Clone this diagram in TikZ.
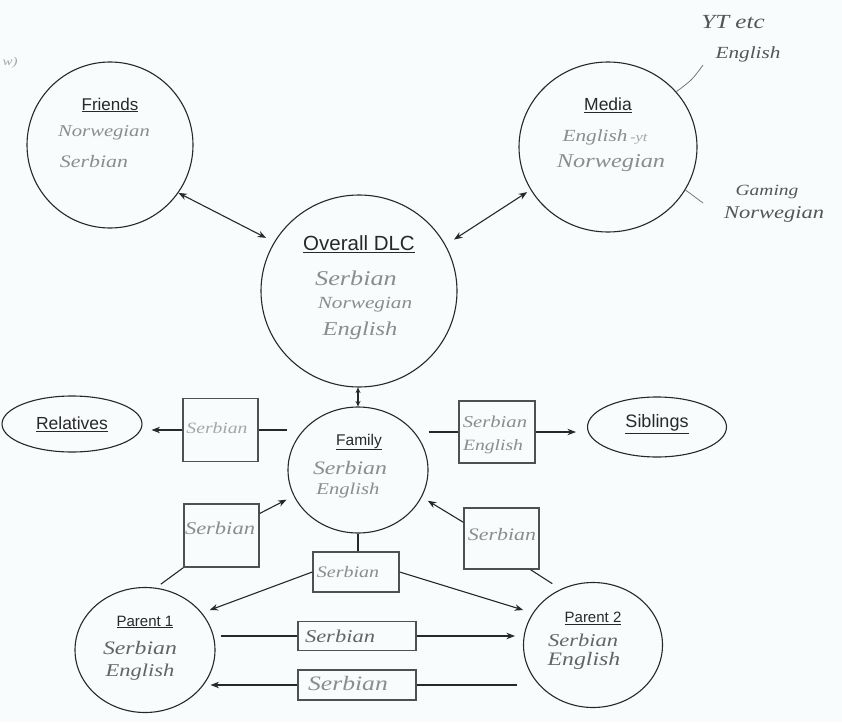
\documentclass[tikz,border=0pt]{standalone}
\usepackage{fontspec}
\setmainfont{Liberation Sans}
\newfontfamily\hand{Liberation Serif}[FakeStretch=1.25]
\usetikzlibrary{shapes.geometric,arrows.meta,calc}
\definecolor{paper}{RGB}{249,252,252}
\definecolor{ink}{RGB}{40,40,40}
\definecolor{boxink}{RGB}{80,80,80}
\definecolor{pencil}{RGB}{140,140,140}
\definecolor{pencilfaint}{RGB}{165,165,165}
\definecolor{pencildark}{RGB}{100,100,100}
\definecolor{pen}{RGB}{85,85,85}
\begin{document}
\begin{tikzpicture}[x=1pt,y=-1pt,
  blob/.style={ellipse, draw=ink, line width=1.1pt, inner sep=0pt},
  tag/.style={rectangle, draw=boxink, line width=1.4pt, inner sep=0pt},
  title/.style={font=\fontsize{#1}{#1}\selectfont, text=ink, inner sep=0pt},
  hw/.style={font=\hand\itshape\fontsize{#1}{#1}\selectfont, text=pencil, inner sep=0pt},
  link/.style={draw=ink, line width=1.1pt},
  arr/.style={link, -{Stealth[length=8.5pt,width=6.5pt]}},
  dbl/.style={link, {Stealth[length=8.5pt,width=6.5pt]}-{Stealth[length=8.5pt,width=6.5pt]}},
  note/.style={draw=pen!80, line width=0.8pt},
]
\fill[paper] (0,0) rectangle (842,722);
\useasboundingbox (0,0) rectangle (842,722);

% circles and ovals
\node[blob, minimum width=166pt, minimum height=166pt] (fr)  at (110,145) {};
\node[blob, minimum width=178pt, minimum height=170pt] (md)  at (608,147) {};
\node[blob, minimum width=196pt, minimum height=192pt] (dlc) at (359,291) {};
\node[blob, minimum width=140pt, minimum height=126pt] (fam) at (358,470) {};
\node[blob, minimum width=140pt, minimum height=56pt]  (rel) at (72,424) {};
\node[blob, minimum width=139pt, minimum height=60pt]  (sib) at (657,427) {};
\node[blob, minimum width=140pt, minimum height=125pt] (pa)  at (145,650) {};
\node[blob, minimum width=139pt, minimum height=125pt] (pb)  at (593,645) {};

% language boxes on the links
\node[tag, minimum width=75pt,  minimum height=63pt] (relbox) at (220.5,430) {};
\node[tag, minimum width=76pt,  minimum height=62pt] (sibbox) at (497,432) {};
\node[tag, minimum width=75pt,  minimum height=63pt] (lbox)   at (221.5,535.5) {};
\node[tag, minimum width=75pt,  minimum height=61pt] (rbox)   at (501.5,538.5) {};
\node[tag, minimum width=86pt,  minimum height=40pt] (mbox)   at (356,572) {};
\node[tag, minimum width=118pt, minimum height=29pt] (ub)     at (357,636) {};
\node[tag, minimum width=118pt, minimum height=30pt] (lb)     at (357,685) {};

% titles
\node[title=17]   (frT)  at (110,105) {\underline{Friends}};
\node[title=17.5] (mdT)  at (608,105) {\underline{Media}};
\node[title=20.5] (dlcT) at (359,244) {\underline{Overall DLC}};
\node[title=15.5] (famT) at (359,442) {\underline{Family}};
\node[title=17.5] (relT) at (72,424)  {\underline{Relatives}};
\node[title=18]   (sibT) at (657,424) {\underline{Siblings}};
\node[title=15]   (paT)  at (145,622) {\underline{Parent 1}};
\node[title=15]   (pbT)  at (593,618) {\underline{Parent 2}};

% handwritten languages
\node[hw=16.5] (frA) at (104,133) {Norwegian};
\node[hw=17.5] (frB) at (94,162) {Serbian};
\node[hw=17] (mdA) at (605,137) {English\,{\color{pencilfaint}\fontsize{13}{13}\selectfont -yt}};
\node[hw=19.5] (mdB) at (611,163) {Norwegian};
\node[hw=21]   (dlcA) at (356,278) {Serbian};
\node[hw=17]   (dlcB) at (365,305) {Norwegian};
\node[hw=19.6] (dlcC) at (360,331) {English};
\node[hw=19]   (famA) at (350,468) {Serbian};
\node[hw=16.5] (famB) at (348,491) {English};
\node[hw=19, text=pencildark] (paA) at (140,648) {Serbian};
\node[hw=18, text=pencildark] (paB) at (140,672) {English};
\node[hw=18, text=pencildark] (pbA) at (583,640) {Serbian};
\node[hw=19, text=pencildark] (pbB) at (584,661) {English};
\node[hw=15.7, text=pencilfaint] (relL) at (217,428) {Serbian};
\node[hw=16.5] (sibA) at (495,422) {Serbian};
\node[hw=15.7] (sibB) at (493,447) {English};
\node[hw=18]   (lboxL) at (220,528) {Serbian};
\node[hw=17.5] (rboxL) at (502,535) {Serbian};
\node[hw=16]   (mboxL) at (348,572) {Serbian};
\node[hw=18, text=pencildark] (ubL) at (340,636) {Serbian};
\node[hw=20.5] (lbL) at (348,683) {Serbian};

% side notes on the media circle
\node[hw=20, text=pen] (ytA) at (733,22) {YT etc};
\node[hw=17, text=pen] (ytB) at (748,54) {English};
\node[hw=15.6, text=pen] (gmA) at (767,192) {Gaming};
\node[hw=18, text=pen] (gmB) at (774,214) {Norwegian};
\node[hw=12, text=pencilfaint] (edge) at (10,63) {w)};

\coordinate (ytend) at (703,65);
\coordinate (gmend) at (703,203);
\draw[note] (md.39) .. controls (692,80) .. (ytend);
\draw[note] (md.-29) .. controls (695,196) .. (gmend);

% links between the circles
\draw[dbl, shorten >=9pt] (fr.-35) -- (dlc.150);
\draw[dbl, shorten <=4pt, shorten >=10pt] (md.209) -- (dlc.28);
\draw[link, {Stealth[length=5.5pt,width=5pt]}-{Stealth[length=5.5pt,width=5pt]}]
  (fam.north |- dlc.south) -- (fam.north);

\draw[link] (fam.west |- relbox.east) -- (relbox.east);
\draw[arr, shorten >=9pt] (relbox.west) -- (relbox.west -| rel.east);
\draw[link] (fam.east |- sibbox.west) -- (sibbox.west);
\draw[arr, shorten >=11pt] (sibbox.east) -- (sibbox.east -| sib.west);

\draw[arr, shorten >=8pt] (lbox.30) -- (fam.202);
\draw[link, shorten >=6pt] (lbox.south west) -- (pa.80);
\draw[arr, shorten >=7pt] (rbox.157) -- (fam.-23);
\draw[link, shorten >=10pt] (rbox.-47) -- (pb.120);

\draw[link] (fam.south) -- (fam.south |- mbox.north);
\draw[arr, shorten >=8pt] (mbox.west) -- (pa.33);
\draw[arr, shorten >=10pt] (mbox.east) -- (pb.152);

\draw[link, shorten <=5pt] (pa.east |- ub.west) -- (ub.west);
\draw[arr, shorten >=8pt] (ub.east) -- (ub.east -| pb.west);
\draw[link] ($(pb.west |- lb.east)+(-6,0)$) -- (lb.east);
\draw[arr] (lb.west) -- ($(lb.west -| pa.east)+(-5,0)$);
\end{tikzpicture}
\end{document}
